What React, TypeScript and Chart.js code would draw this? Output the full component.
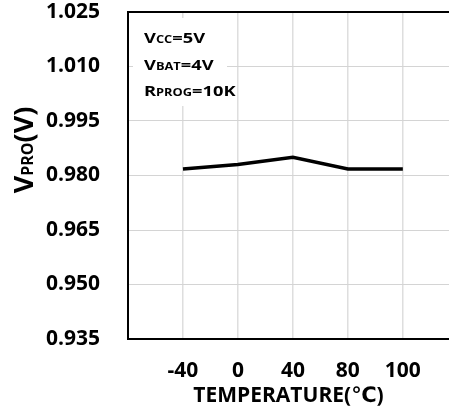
import React, { useEffect, useRef } from "react";
import { Chart, registerables } from "chart.js";

Chart.register(...registerables);

const categories = ["-40", "0", "40", "80", "100"];
const vproValues = [0.9818, 0.983, 0.985, 0.9818, 0.9818];
const yTicks = [0.935, 0.95, 0.965, 0.98, 0.995, 1.01, 1.025];

const FONT = "'Open Sans', 'DejaVu Sans', sans-serif";

function drawMixed(ctx: CanvasRenderingContext2D, parts: [string, number][], x: number, y: number) {
  let cx = x;
  for (const [t, size] of parts) {
    ctx.font = `bold ${size}px ${FONT}`;
    ctx.fillText(t, cx, y);
    cx += ctx.measureText(t).width;
  }
  return cx - x;
}

function measureMixed(ctx: CanvasRenderingContext2D, parts: [string, number][]) {
  let w = 0;
  for (const [t, size] of parts) {
    ctx.font = `bold ${size}px ${FONT}`;
    w += ctx.measureText(t).width;
  }
  return w;
}

function drawStretched(ctx: CanvasRenderingContext2D, parts: [string, number][], x: number, y: number, sx: number) {
  ctx.save();
  ctx.translate(x, y);
  ctx.scale(sx, 1);
  drawMixed(ctx, parts, 0, 0);
  ctx.restore();
}

const overlayPlugin = {
  id: "overlay",
  beforeDatasetsDraw(chart: any) {
    const ctx = chart.ctx as CanvasRenderingContext2D;
    const area = chart.chartArea;
    ctx.save();
    ctx.fillStyle = "#ffffff";
    ctx.fillRect(area.left + 5, area.top + 6, 94, 88);
    ctx.fillStyle = "#000000";
    ctx.textBaseline = "alphabetic";
    ctx.textAlign = "left";
    const bx = area.left + 16;
    const sx = 1.22;
    drawStretched(ctx, [["V", 15], ["CC", 10.5], ["=5V", 15]], bx, area.top + 31, sx);
    drawStretched(ctx, [["V", 15], ["BAT", 10.5], ["=4V", 15]], bx, area.top + 58, sx);
    drawStretched(ctx, [["R", 15], ["PROG", 10.5], ["=10K", 15]], bx, area.top + 84, sx);
    ctx.restore();
  },
  afterDraw(chart: any) {
    const ctx = chart.ctx as CanvasRenderingContext2D;
    ctx.save();
    const parts: [string, number][] = [["V", 27], ["PRO", 16], ["(V)", 27]];
    const w = measureMixed(ctx, parts);
    ctx.translate(33, 150);
    ctx.rotate(-Math.PI / 2);
    ctx.fillStyle = "#000000";
    ctx.textBaseline = "alphabetic";
    ctx.textAlign = "left";
    drawMixed(ctx, parts, -w / 2, 0);
    ctx.restore();
  },
};

export default function App() {
  const ref = useRef<HTMLCanvasElement>(null);
  useEffect(() => {
    if (!ref.current) return;
    const chart = new Chart(ref.current, {
      type: "line",
      data: {
        datasets: [
          {
            label: "VPRO",
            data: vproValues.map((v, i) => ({ x: i + 1, y: v })),
            borderColor: "#000000",
            borderWidth: 3.5,
            pointRadius: 0,
            tension: 0,
            fill: false,
          },
        ],
      },
      options: {
        animation: false,
        responsive: false,
        layout: { padding: { top: 12, right: 0, left: 0, bottom: 0 } },
        plugins: { legend: { display: false }, tooltip: { enabled: false } },
        scales: {
          x: {
            type: "linear",
            min: 0,
            max: 5.84,
            afterBuildTicks: (scale: any) => {
              scale.ticks = [0, 1, 2, 3, 4, 5].map((v) => ({ value: v }));
            },
            afterFit: (scale: any) => {
              scale.height = 73;
              scale.paddingLeft = 0;
              scale.paddingRight = 0;
            },
            ticks: {
              callback: (v: any) => (v >= 1 ? categories[v - 1] : ""),
              font: { family: FONT, size: 21, weight: "bold" },
              color: "#000000",
              padding: 19,
              maxRotation: 0,
              autoSkip: false,
            },
            grid: {
              color: (c: any) => (c.tick && c.tick.value === 0 ? "rgba(0,0,0,0)" : "#dedede"),
              lineWidth: 1.5,
              drawTicks: false,
            },
            border: { color: "#000000", width: 2 },
            title: {
              display: true,
              text: "TEMPERATURE(℃)",
              font: { family: FONT, size: 21, weight: "bold" },
              color: "#000000",
              padding: { top: 0, bottom: 3 },
            },
          },
          y: {
            min: 0.935,
            max: 1.025,
            afterBuildTicks: (scale: any) => {
              scale.ticks = yTicks.map((v) => ({ value: v }));
            },
            afterFit: (scale: any) => {
              scale.width = 128;
              scale.paddingTop = 0;
              scale.paddingBottom = 0;
            },
            ticks: {
              callback: (v: any) => Number(v).toFixed(3),
              font: { family: FONT, size: 21, weight: "bold" },
              color: "#000000",
              padding: 28,
            },
            grid: {
              color: (c: any) => (c.index === yTicks.length - 1 ? "#000000" : "#d4d4d4"),
              lineWidth: (c: any) => (c.index === yTicks.length - 1 ? 2 : 1),
              drawTicks: false,
            },
            border: { color: "#000000", width: 2 },
          },
        },
      },
      plugins: [overlayPlugin],
    });
    return () => chart.destroy();
  }, []);
  return (
    <div style={{ position: "absolute", left: 0, top: 0, width: 449, height: 412, background: "#fff" }}>
      <canvas ref={ref} width={449} height={412} style={{ display: "block" }} />
    </div>
  );
}
